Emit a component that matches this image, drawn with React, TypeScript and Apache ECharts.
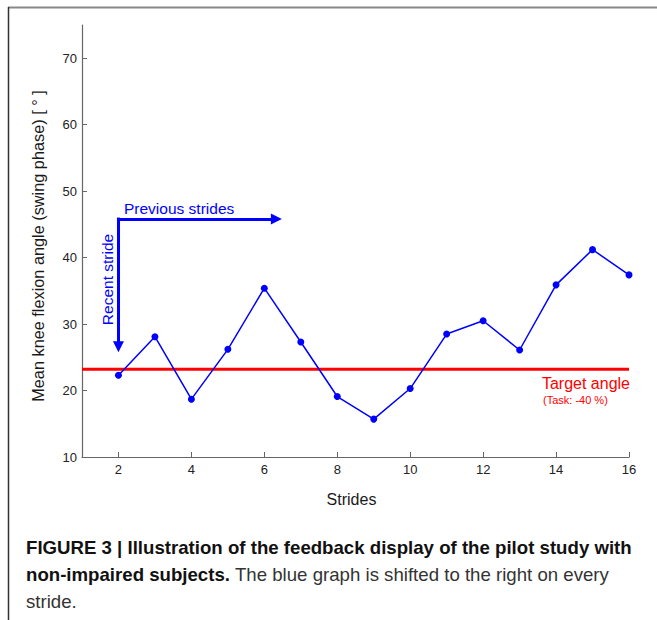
import React, { useEffect, useRef } from "react";
import * as echarts from "echarts";

const strides = [2, 3, 4, 5, 6, 7, 8, 9, 10, 11, 12, 13, 14, 15, 16];
const kneeAngle = [22.3, 28.1, 18.7, 26.2, 35.4, 27.3, 19.1, 15.7, 20.3, 28.5, 30.5, 26.1, 35.9, 41.2, 37.4];
const targetAngle = 23.2;
const xRange = [1, 16];
const yRange = [10, 75];
const xTickValues = [2, 4, 6, 8, 10, 12, 14, 16];
const arrowCorner = [2, 45.8];
const recentArrowEnd = [2, 26.6];
const previousArrowEnd = [6.33, 45.8];

const captionLine1 = "FIGURE 3 | Illustration of the feedback display of the pilot study with";
const captionLine2Bold = "non-impaired subjects.";
const captionLine2Normal = " The blue graph is shifted to the right on every";
const captionLine3 = "stride.";

const FONT = "'Liberation Sans', Arial, Helvetica, sans-serif";
const BLUE = "#0000ff";
const RED = "#ff0000";

function measure(text: string, font: string): number {
  const c = document.createElement("canvas");
  const ctx = c.getContext("2d");
  if (!ctx) return text.length * 9;
  ctx.font = font;
  return ctx.measureText(text).width;
}

export default function App() {
  const ref = useRef<HTMLDivElement>(null);
  useEffect(() => {
    if (!ref.current) return;
    const chart = echarts.init(ref.current, null, { renderer: "svg" });
    const w1 = measure(captionLine1, "bold 18px 'Liberation Sans'");
    const capScale = w1 > 0 ? 606 / w1 : 0.85;
    const option: any = {
      animation: false,
      backgroundColor: "#ffffff",
      grid: { left: 82, top: 25, right: 28, bottom: 163, containLabel: false },
      xAxis: {
        type: "value",
        min: xRange[0],
        max: xRange[1],
        name: "Strides",
        nameLocation: "middle",
        nameGap: 34,
        nameTextStyle: { fontSize: 16, color: "#1a1a1a", fontFamily: FONT, padding: [0, 8, 0, 0] },
        splitLine: { show: false },
        axisLine: { lineStyle: { color: "#666", width: 1.2 } },
        axisTick: { inside: true, length: 5, customValues: xTickValues, lineStyle: { color: "#666" } },
        axisLabel: { customValues: xTickValues, fontSize: 13, color: "#222", fontFamily: FONT, margin: 6 },
      },
      yAxis: {
        type: "value",
        min: yRange[0],
        max: yRange[1],
        interval: 10,
        name: "Mean knee flexion angle (swing phase) [ ° ]",
        nameLocation: "middle",
        nameGap: 36,
        nameTextStyle: { fontSize: 16.3, color: "#1a1a1a", fontFamily: FONT, padding: [0, 10, 0, 0] },
        splitLine: { show: false },
        axisLine: { show: true, lineStyle: { color: "#666", width: 1.2 } },
        axisTick: { show: true, inside: true, length: 5, lineStyle: { color: "#666" } },
        axisLabel: { fontSize: 13, color: "#222", fontFamily: FONT, margin: 5, showMaxLabel: false },
      },
      series: [
        {
          type: "line",
          name: "Target angle",
          data: [[xRange[0], targetAngle], [xRange[1], targetAngle]],
          symbol: "none",
          lineStyle: { color: RED, width: 3 },
          silent: true,
          z: 2,
        },
        {
          type: "line",
          name: "Knee angle",
          data: strides.map((s, i) => [s, kneeAngle[i]]),
          symbol: "circle",
          symbolSize: 7,
          itemStyle: { color: BLUE },
          lineStyle: { color: BLUE, width: 1.5 },
          z: 3,
          markLine: {
            silent: true,
            symbol: ["none", "triangle"],
            symbolSize: [11, 11],
            label: { show: false },
            lineStyle: { color: BLUE, width: 3, type: "solid", cap: "square" },
            data: [
              [{ coord: arrowCorner }, { coord: recentArrowEnd }],
              [{ coord: arrowCorner }, { coord: previousArrowEnd }],
            ],
          },
        },
      ],
      graphic: [
        { type: "line", shape: { x1: 8, y1: 7.5, x2: 657, y2: 7.5 }, style: { stroke: "#888", lineWidth: 2 } },
        { type: "line", shape: { x1: 8.5, y1: 7, x2: 8.5, y2: 620 }, style: { stroke: "#333", lineWidth: 1.5 } },
        {
          type: "text",
          x: 124,
          y: 208,
          style: { text: "Previous strides", fill: BLUE, fontSize: 15.5, fontFamily: FONT, verticalAlign: "middle", align: "left" },
        },
        {
          type: "text",
          x: 107.5,
          y: 279.5,
          rotation: Math.PI / 2,
          style: { text: "Recent stride", fill: BLUE, fontSize: 15.5, fontFamily: FONT, verticalAlign: "middle", align: "center" },
        },
        {
          type: "text",
          x: 630,
          y: 383,
          style: { text: "Target angle", fill: RED, fontSize: 16, fontFamily: FONT, verticalAlign: "middle", align: "right" },
        },
        {
          type: "text",
          x: 543,
          y: 400,
          style: { text: "(Task: -40 %)", fill: RED, fontSize: 11, fontFamily: FONT, verticalAlign: "middle", align: "left" },
        },
        {
          type: "text",
          x: 26,
          y: 534.5,
          scaleX: capScale,
          style: {
            text:
              "{b|" + captionLine1 + "}\n" +
              "{b|" + captionLine2Bold + "}{n|" + captionLine2Normal + "}\n" +
              "{n|" + captionLine3 + "}",
            fontFamily: "Liberation Sans",
            fontSize: 18,
            lineHeight: 27,
            verticalAlign: "top",
            align: "left",
            rich: {
              b: { fontWeight: "bold", fill: "#111", fontSize: 18, lineHeight: 27, fontFamily: "Liberation Sans" },
              n: { fontWeight: "normal", fill: "#333", fontSize: 18, lineHeight: 27, fontFamily: "Liberation Sans" },
            },
          },
        },
      ],
    };
    chart.setOption(option);
    return () => chart.dispose();
  }, []);
  return (
    <div
      ref={ref}
      style={{ position: "absolute", left: 0, top: 0, width: 657, height: 620 }}
    />
  );
}
